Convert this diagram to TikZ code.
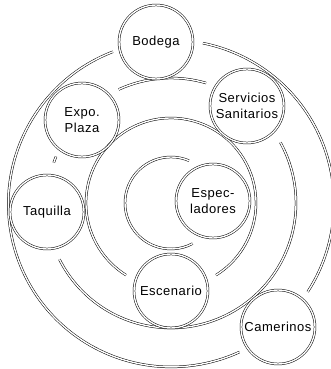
\documentclass[tikz,border=0pt]{standalone}
\usepackage{fontspec}
\setmainfont{Liberation Sans}[LetterSpace=4]
\begin{document}
\begin{tikzpicture}[x=1pt,y=1pt,
  dbl/.style={draw=black,line width=0.5pt,double=white,double distance=1.4pt},
  room/.style={dbl,circle,minimum size=74pt,inner sep=0pt,align=center,
    font=\fontsize{13}{16}\selectfont}]
\useasboundingbox (0,0) rectangle (331,369);
\coordinate (C) at (171,166);
% inner arc
\draw[dbl] ([shift={(67:46)}]C) arc[start angle=67,end angle=298,radius=46];
% middle ring
\draw[dbl] ([shift={(-58:85)}]C) arc[start angle=-58,end angle=238,radius=85];
% ring 125
\draw[dbl] ([shift={(73.7:125)}]C) arc[start angle=73.7,end angle=114.7,radius=125];
\draw[dbl] ([shift={(158:124)}]C) arc[start angle=158,end angle=161,radius=124];
\draw[dbl] ([shift={(-153.2:125)}]C) arc[start angle=-153.2,end angle=29,radius=125];
% outer ring
\draw[dbl] ([shift={(111:162)}]C) arc[start angle=111,end angle=294.7,radius=163];
\draw[dbl] ([shift={(-33:163)}]C) arc[start angle=-33,end angle=78.7,radius=163];
% rooms
\node[room,fill=white] (bod) at (156,327) {Bodega};
\node[room] (ser) at (247,263) {Servicios\\Sanitarios};
\node[room] (exp) at (82,249) {Expo.\\Plaza};
\node[room] (taq) at (47,157) {Taquilla};
\node[room] (esp) at (213,168) {Espec-\\ladores};
\node[room] (esc) at (171,78) {Escenario};
\node[room] (cam) at (278,42) {Camerinos};
\end{tikzpicture}
\end{document}
